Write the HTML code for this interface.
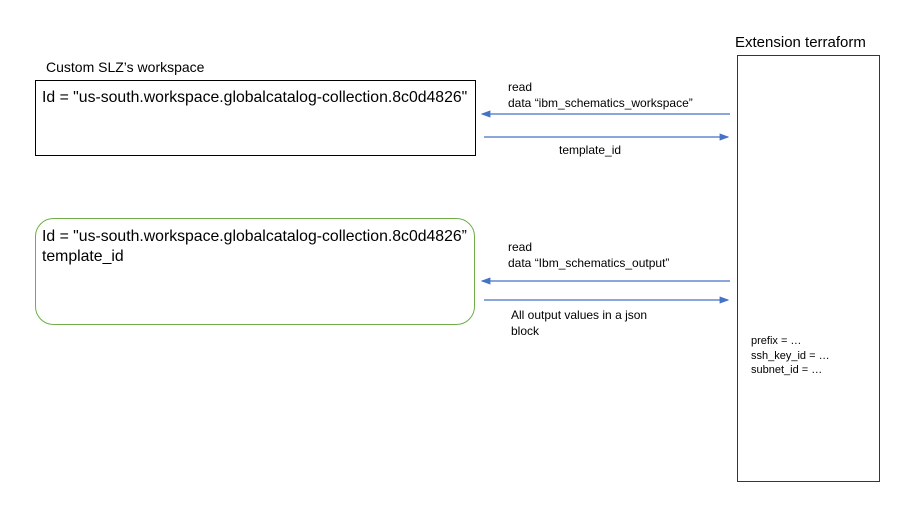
<!DOCTYPE html>
<html><head><meta charset="utf-8"><style>
body{margin:0;background:#fff;width:920px;height:518px;position:relative;overflow:hidden;font-family:"Liberation Sans",sans-serif;color:#000}
.a{position:absolute;white-space:nowrap}
</style></head><body>
<svg width="920" height="518" style="position:absolute;left:0;top:0">
<defs><marker id="m" markerWidth="8" markerHeight="6" refX="7" refY="3" orient="auto"><path d="M0,0L8,3L0,6z" fill="#4472c4"/></marker></defs>
<rect x="35.5" y="80.5" width="440" height="75" fill="none" stroke="#000" stroke-width="1"/>
<rect x="35.5" y="218.5" width="439" height="106" rx="18" fill="none" stroke="#70ad47" stroke-width="1"/>
<rect x="737.5" y="55.5" width="142" height="426" fill="none" stroke="#1f3864" stroke-width="1"/>
<g stroke="#4472c4" stroke-width="1.2" fill="none">
<line x1="730" y1="114" x2="482" y2="114" marker-end="url(#m)"/>
<line x1="484" y1="137" x2="728" y2="137" marker-end="url(#m)"/>
<line x1="730" y1="281" x2="482" y2="281" marker-end="url(#m)"/>
<line x1="484" y1="300" x2="728" y2="300" marker-end="url(#m)"/>
</g>
</svg>
<div class="a" style="left:46px;top:59px;font-size:14px">Custom SLZ’s workspace</div>
<div class="a" style="left:735px;top:34px;font-size:15px">Extension terraform</div>
<div class="a" style="left:42px;top:89px;font-size:15.8px">Id = "us-south.workspace.globalcatalog-collection.8c0d4826"</div>
<div class="a" style="left:42px;top:227px;font-size:15.8px;line-height:20px">Id = "us-south.workspace.globalcatalog-collection.8c0d4826”<br>template_id</div>
<div class="a" style="left:508px;top:79px;font-size:12px;line-height:16px">read<br>data “ibm_schematics_workspace”</div>
<div class="a" style="left:559px;top:143px;font-size:12px">template_id</div>
<div class="a" style="left:508px;top:239px;font-size:12px;line-height:16px">read<br>data “Ibm_schematics_output”</div>
<div class="a" style="left:511px;top:307px;font-size:12px;line-height:16px">All output values in a json<br>block</div>
<div class="a" style="left:751px;top:334px;font-size:11px;line-height:14.5px">prefix = …<br>ssh_key_id = …<br>subnet_id = …</div>
</body></html>
